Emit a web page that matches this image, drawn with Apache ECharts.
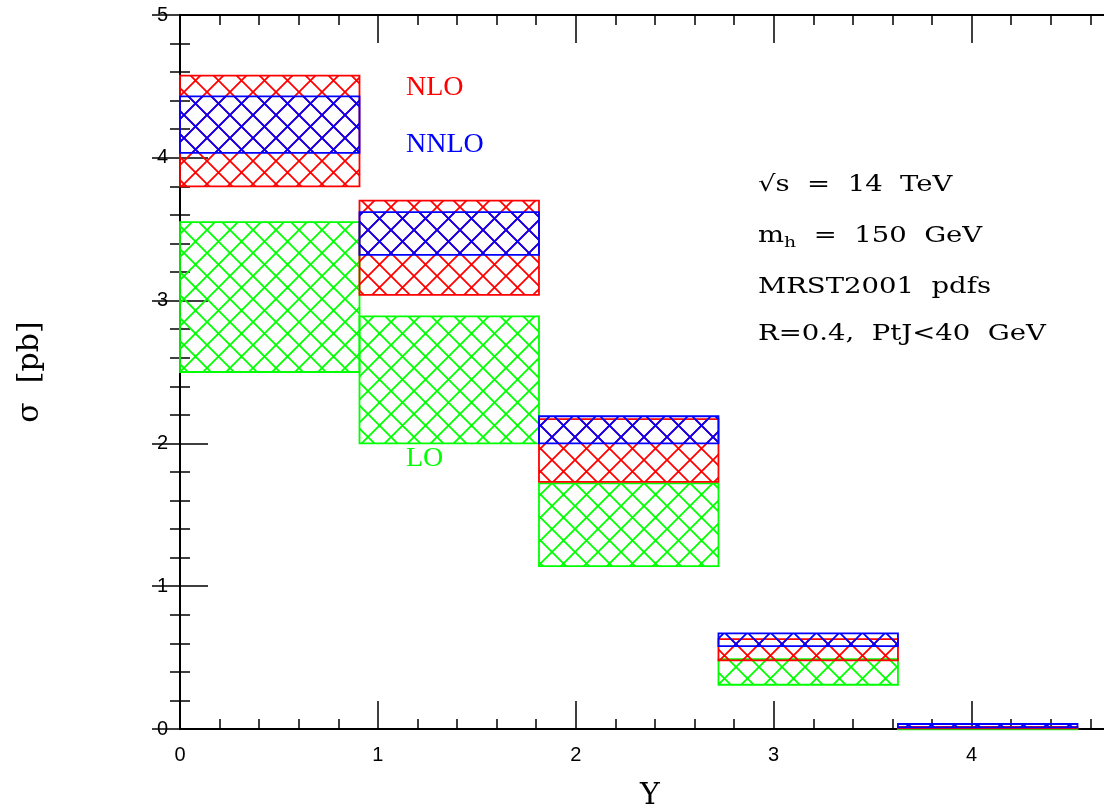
<!DOCTYPE html>
<html>
<head>
<meta charset="utf-8">
<script src="https://cdn.jsdelivr.net/npm/echarts@6/dist/echarts.min.js"></script>
<style>html,body{margin:0;padding:0;background:#fff;overflow:hidden}#c{width:1104px;height:811px}</style>
</head>
<body>
<div id="c"></div>
<script>
// ---- data ----
const binEdges = [0, 0.907, 1.814, 2.721, 3.628, 4.535];
const loLow    = [2.50, 2.00, 1.14, 0.31, 0.000];
const loHigh   = [3.55, 2.89, 1.72, 0.49, 0.005];
const nloLow   = [3.80, 3.04, 1.73, 0.48, 0.005];
const nloHigh  = [4.575, 3.70, 2.17, 0.63, 0.015];
const nnloLow  = [4.035, 3.32, 2.00, 0.58, 0.012];
const nnloHigh = [4.43, 3.62, 2.19, 0.67, 0.035];
const xMajorTicks = [0, 1, 2, 3, 4];
const xMinorTicks = [0.2,0.4,0.6,0.8,1.2,1.4,1.6,1.8,2.2,2.4,2.6,2.8,3.2,3.4,3.6,3.8,4.2,4.4,4.6];
const seriesNames = ['LO', 'NLO', 'NNLO'];

function hatch(color) {
  const s = 23;
  const c = document.createElement('canvas');
  c.width = s; c.height = s;
  const g = c.getContext('2d');
  g.strokeStyle = color; g.lineWidth = 1.8;
  g.beginPath();
  for (const dx of [-s, 0, s]) {
    g.moveTo(dx, 0); g.lineTo(dx + s, s);
    g.moveTo(dx + s, 0); g.lineTo(dx, s);
  }
  g.stroke();
  return c;
}

function band(lo, hi) {
  return lo.map((v, i) => [binEdges[i], binEdges[i + 1], v, hi[i]]);
}

function makeSeries(name, lo, hi, color) {
  const pat = hatch(color);
  return {
    type: 'custom', name: name, xAxisIndex: 0, yAxisIndex: 0,
    data: band(lo, hi),
    encode: { x: [0, 1], y: [2, 3] },
    renderItem: function (params, api) {
      const p0 = api.coord([api.value(0), api.value(3)]);
      const p1 = api.coord([api.value(1), api.value(2)]);
      return {
        type: 'rect',
        shape: { x: p0[0], y: p0[1], width: p1[0] - p0[0], height: Math.max(p1[1] - p0[1], 1) },
        style: { fill: { image: pat, repeat: 'repeat' }, stroke: color, lineWidth: 1.8 }
      };
    }
  };
}

const chart = echarts.init(document.getElementById('c'), null, { renderer: 'canvas' });
const axisLine = { show: true, lineStyle: { color: '#000', width: 2 } };
const labelFont = { color: '#000', fontSize: 20, fontFamily: 'Liberation Sans' };
const serif = 'DejaVu Serif';
const times = 'Liberation Serif';
const GREEN = '#00ff00', RED = '#ff0000', BLUE = '#0000ff';
const annFont = '22px "' + serif + '"';
const annScale = 1.25;

const option = {
  backgroundColor: '#fff',
  animation: false,
  grid: { left: 180, top: 15, bottom: 82, right: -16, containLabel: false, outerBoundsMode: 'none' },
  xAxis: [
    { type: 'value', position: 'bottom', min: 0, max: 4.75, splitLine: { show: false },
      axisLine: axisLine,
      axisTick: { inside: true, length: 28, lineStyle: { color: '#000', width: 1.5 }, customValues: xMajorTicks },
      axisLabel: Object.assign({ margin: 16, customValues: xMajorTicks }, labelFont),
      name: 'Y', nameLocation: 'middle', nameGap: 52,
      nameTextStyle: { fontFamily: serif, fontSize: 30, color: '#000' } },
    { type: 'value', position: 'bottom', min: 0, max: 4.75, splitLine: { show: false },
      axisLine: { show: false }, axisLabel: { show: false },
      axisTick: { inside: true, length: 10, lineStyle: { color: '#000', width: 1.5 }, customValues: xMinorTicks } },
    { type: 'value', position: 'top', min: 0, max: 4.75, splitLine: { show: false },
      axisLine: axisLine, axisLabel: { show: false },
      axisTick: { inside: true, length: 28, lineStyle: { color: '#000', width: 1.5 }, customValues: xMajorTicks } },
    { type: 'value', position: 'top', min: 0, max: 4.75, splitLine: { show: false },
      axisLine: { show: false }, axisLabel: { show: false },
      axisTick: { inside: true, length: 10, lineStyle: { color: '#000', width: 1.5 }, customValues: xMinorTicks } }
  ],
  yAxis: [
    { type: 'value', position: 'left', min: 0, max: 5, interval: 1, splitLine: { show: false },
      axisLine: axisLine,
      axisTick: { inside: true, length: 28, lineStyle: { color: '#000', width: 1.5 } },
      minorTick: { show: true, splitNumber: 5, length: 10, lineStyle: { color: '#000', width: 1.5 } },
      minorSplitLine: { show: false },
      axisLabel: Object.assign({ margin: 12 }, labelFont),
      name: 'σ  [pb]', nameLocation: 'middle', nameGap: 135, nameRotate: 90,
      nameTextStyle: { fontFamily: serif, fontSize: 30, color: '#000' } },
    { type: 'value', position: 'right', min: 0, max: 5, interval: 1, splitLine: { show: false },
      axisLine: axisLine, axisLabel: { show: false },
      axisTick: { inside: true, length: 28, lineStyle: { color: '#000', width: 1.5 } },
      minorTick: { show: true, splitNumber: 5, length: 10, lineStyle: { color: '#000', width: 1.5 } } }
  ],
  series: [
    makeSeries(seriesNames[0], loLow, loHigh, GREEN),
    makeSeries(seriesNames[1], nloLow, nloHigh, RED),
    makeSeries(seriesNames[2], nnloLow, nnloHigh, BLUE)
  ],
  graphic: [
    { type: 'text', left: 406, top: 74, style: { text: 'NLO', fill: RED, font: '28px "' + times + '"' } },
    { type: 'text', left: 406, top: 131, style: { text: 'NNLO', fill: BLUE, font: '28px "' + times + '"' } },
    { type: 'text', left: 406, top: 445, style: { text: 'LO', fill: GREEN, font: '28px "' + times + '"' } },
    { type: 'text', left: 758, top: 174, scaleX: annScale, style: { text: '√s  =  14  TeV', fill: '#000', font: annFont } },
    { type: 'text', left: 758, top: 225, scaleX: annScale, style: {
        text: '{a|m}{s|h}{a|  =  150  GeV}', fill: '#000',
        rich: { a: { fontFamily: serif, fontSize: 22, fill: '#000' },
                s: { fontFamily: serif, fontSize: 15, fill: '#000', padding: [15, 0, 0, 0] } } } },
    { type: 'text', left: 758, top: 276, scaleX: annScale, style: { text: 'MRST2001  pdfs', fill: '#000', font: annFont } },
    { type: 'text', left: 758, top: 323, scaleX: annScale, style: { text: 'R=0.4,  PtJ<40  GeV', fill: '#000', font: annFont } }
  ]
};
chart.setOption(option);
</script>
</body>
</html>
